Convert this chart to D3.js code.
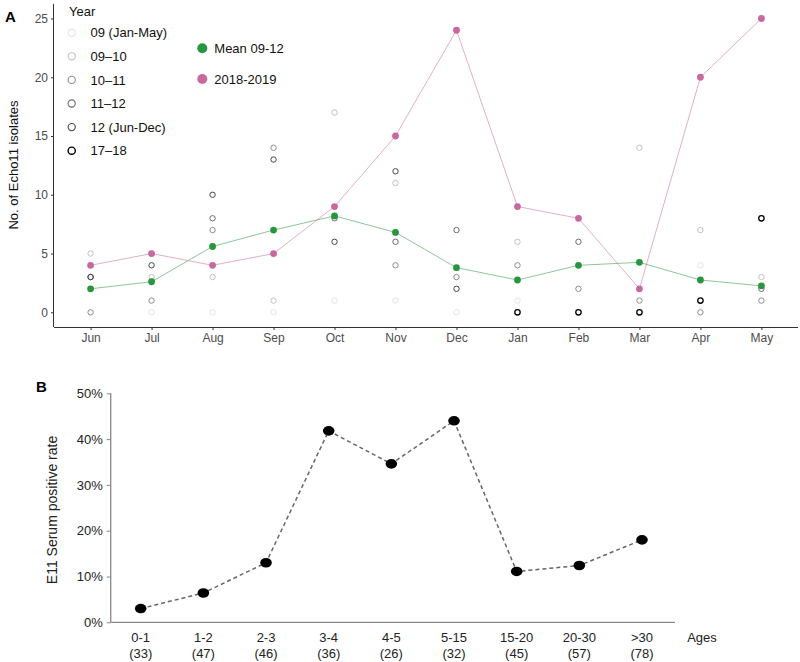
<!DOCTYPE html>
<html><head><meta charset="utf-8">
<script src="https://cdn.jsdelivr.net/npm/d3@7"></script>
<style>body{margin:0;background:#fff;} text{font-family:"Liberation Sans",Arial,sans-serif;}</style>
</head><body>
<svg id="c" width="800" height="662"></svg>
<script>
// ---------- Panel A data ----------
const months = ["Jun","Jul","Aug","Sep","Oct","Nov","Dec","Jan","Feb","Mar","Apr","May"];
const seasonNames = ["09 (Jan-May)","09\u201310","10\u201311","11\u201312","12 (Jun-Dec)","17\u201318"];
const s09JanMay = [null,0,0,0,1,1,0,1,null,null,4,null];
const s0910 = [5,3,3,1,17,11,null,6,null,14,7,3];
const s1011 = [0,1,7,14,null,4,3,4,2,1,0,1];
const s1112 = [3,null,8,null,8,6,7,null,6,null,null,2];
const s12JunDec = [3,4,10,13,6,12,2,null,null,null,null,null];
const s1718 = [null,null,null,null,null,null,null,0,0,0,1,8];
const mean0912 = [2.0,2.6,5.6,7.0,8.2,6.8,3.8,2.75,4.0,4.25,2.75,2.25];
const y1819 = [4,5,4,5,9,15,24,9,8,2,20,25];
const yTicksA = [0,5,10,15,20,25];

// ---------- Panel B data ----------
const ages = ["0-1","1-2","2-3","3-4","4-5","5-15","15-20","20-30",">30"];
const ageN = ["(33)","(47)","(46)","(36)","(26)","(32)","(45)","(57)","(78)"];
const posRate = [0.030,0.064,0.130,0.418,0.346,0.440,0.111,0.124,0.180];
const yTicksB = [0,0.1,0.2,0.3,0.4,0.5];

const seasonSeries = [s09JanMay,s0910,s1011,s1112,s12JunDec,s1718];
const seasonColors = ["#e3e3e3","#c2c2c2","#8c8c8c","#6b6b6b","#454545","#000000"];
const green = "#27963f", pink = "#c9689f";

const svg = d3.select("#c");

// ===== Panel A =====
const xA = d3.scalePoint().domain(months).range([54,798]).padding(0.6);
const yA = d3.scaleLinear().domain([-1.25,26.25]).range([327,3.8]);

const gA = svg.append("g");
gA.append("g").attr("transform","translate(0,327)")
  .call(d3.axisBottom(xA).tickSize(3).tickPadding(3))
  .call(g=>{g.select(".domain").attr("stroke","#333").attr("d","M54,0.5H798");
    g.selectAll(".tick line").attr("stroke","#333");
    g.selectAll("text").attr("fill","#4d4d4d").attr("font-size",12).attr("font-family","Liberation Sans, Arial, sans-serif");});
gA.append("g").attr("transform","translate(54,0)")
  .call(d3.axisLeft(yA).tickValues(yTicksA).tickSize(3).tickPadding(3))
  .call(g=>{g.select(".domain").attr("stroke","#333").attr("d","M-0.5,327V3.8");
    g.selectAll(".tick line").attr("stroke","#333");
    g.selectAll("text").attr("fill","#4d4d4d").attr("font-size",12).attr("font-family","Liberation Sans, Arial, sans-serif");});

gA.append("text").attr("transform","translate(18,165) rotate(-90)").attr("text-anchor","middle")
  .attr("font-size",13).attr("fill","#111").text("No. of Echo11 isolates");
gA.append("text").attr("x",5).attr("y",22).attr("font-size",15).attr("font-weight","bold").text("A");

// open season points
seasonSeries.forEach((s,i)=>{
  gA.append("g").selectAll("circle").data(s.map((v,j)=>({m:months[j],v})).filter(d=>d.v!==null))
    .join("circle").attr("cx",d=>xA(d.m)).attr("cy",d=>yA(d.v)).attr("r",2.7)
    .attr("fill","none").attr("stroke",seasonColors[i]).attr("stroke-width",i===5?1.3:1);
});

// lines + filled points
function lineSeries(vals,col){
  const data = vals.map((v,j)=>({m:months[j],v}));
  gA.append("path").datum(data).attr("fill","none").attr("stroke",col).attr("stroke-opacity",0.6)
    .attr("stroke-width",0.9).attr("d",d3.line().x(d=>xA(d.m)).y(d=>yA(d.v)));
  gA.append("g").selectAll("circle").data(data).join("circle")
    .attr("cx",d=>xA(d.m)).attr("cy",d=>yA(d.v)).attr("r",3.4).attr("fill",col);
}
lineSeries(mean0912,green);
lineSeries(y1819,pink);

// legend A
const lg = gA.append("g");
lg.append("text").attr("x",69).attr("y",16).attr("font-size",13).attr("fill","#111").text("Year");
seasonNames.forEach((n,i)=>{
  const cy = 32.7 + i*23.6;
  lg.append("circle").attr("cx",71.7).attr("cy",cy).attr("r",3.6).attr("fill","none")
    .attr("stroke",seasonColors[i]).attr("stroke-width",i===5?1.4:1.1);
  lg.append("text").attr("x",90.5).attr("y",cy+4.6).attr("font-size",13).attr("fill","#111").text(n);
});
[["Mean 09-12",green,48.3],["2018-2019",pink,79]].forEach(([n,c,cy])=>{
  lg.append("circle").attr("cx",202.3).attr("cy",cy).attr("r",5).attr("fill",c);
  lg.append("text").attr("x",214.3).attr("y",cy+4.6).attr("font-size",13).attr("fill","#111").text(n);
});

// ===== Panel B =====
const xB = d3.scalePoint().domain(ages).range([140.7,642]);
const yB = d3.scaleLinear().domain([0,0.5]).range([622.3,393.3]);
const gB = svg.append("g");
gB.append("text").attr("x",36).attr("y",392).attr("font-size",15).attr("font-weight","bold").text("B");

gB.append("g").attr("transform","translate(110.7,0)")
  .call(d3.axisLeft(yB).tickValues(yTicksB).tickFormat(d3.format(".0%")).tickSize(4).tickPadding(4))
  .call(g=>{g.select(".domain").attr("stroke","#888").attr("stroke-width",1.3).attr("d","M0,622.3V393.3");
    g.selectAll(".tick line").attr("stroke","#888");
    g.selectAll("text").attr("fill","#222").attr("font-size",13).attr("font-family","Liberation Sans, Arial, sans-serif");});
gB.append("line").attr("x1",110.7).attr("x2",675).attr("y1",622.3).attr("y2",622.3)
  .attr("stroke","#888").attr("stroke-width",1.3);

const xl = gB.append("g");
ages.forEach((a,i)=>{
  xl.append("text").attr("x",xB(a)).attr("y",642).attr("text-anchor","middle").attr("font-size",13).attr("fill","#222").text(a);
  xl.append("text").attr("x",xB(a)).attr("y",658).attr("text-anchor","middle").attr("font-size",13).attr("fill","#222").text(ageN[i]);
});
gB.append("text").attr("x",702).attr("y",642).attr("text-anchor","middle").attr("font-size",13).attr("fill","#222").text("Ages");
gB.append("text").attr("transform","translate(57,510) rotate(-90)").attr("text-anchor","middle")
  .attr("font-size",14).attr("fill","#222").text("E11 Serum positive rate");

const dB = posRate.map((v,i)=>({a:ages[i],v}));
gB.append("path").datum(dB).attr("fill","none").attr("stroke","#666").attr("stroke-width",1.5)
  .attr("stroke-dasharray","4,3").attr("d",d3.line().x(d=>xB(d.a)).y(d=>yB(d.v)));
gB.append("g").selectAll("ellipse").data(dB).join("ellipse")
  .attr("cx",d=>xB(d.a)).attr("cy",d=>yB(d.v)).attr("rx",5.8).attr("ry",4.8).attr("fill","#000");
</script>
</body></html>
